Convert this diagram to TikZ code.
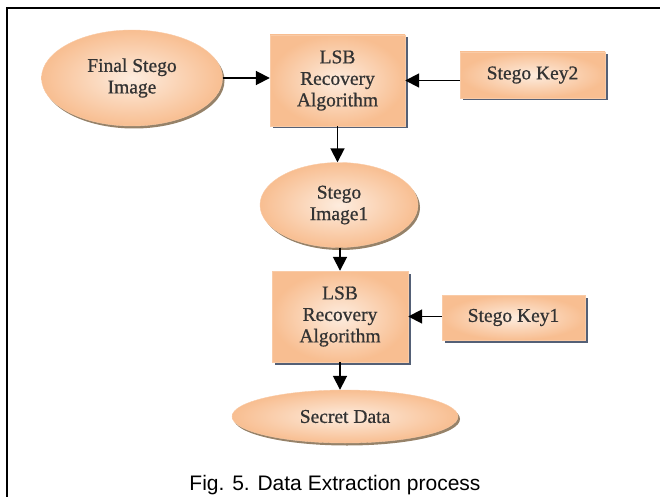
\documentclass[tikz,border=0pt]{standalone}
\usepackage{fontspec}
\setmainfont{Liberation Serif}
\newfontfamily\boxfont[FakeBold=0.8]{Liberation Serif}
\newfontfamily\capfont{Liberation Sans}
\usetikzlibrary{shapes.geometric,arrows.meta,shadows}
\definecolor{peachin}{RGB}{253,236,222}
\definecolor{peachout}{RGB}{248,190,145}
\definecolor{boxshadow}{RGB}{84,96,118}
\definecolor{ovalshadow}{RGB}{150,130,105}
\tikzset{
  procbox/.style={rectangle, inner sep=0pt, align=center,
    inner color=peachin, outer color=peachout,
    draw=peachout!80!white, line width=0.4pt,
    drop shadow={shadow xshift=2.5pt, shadow yshift=-2.5pt, fill=boxshadow, opacity=1},
    font=\boxfont\fontsize{19.5}{21.5}\selectfont, text=black!80},
  dataoval/.style={ellipse, inner sep=0pt, align=center,
    inner color=peachin, outer color=peachout,
    draw=peachout!80!white, line width=0.4pt,
    drop shadow={shadow xshift=2pt, shadow yshift=-2.5pt, fill=ovalshadow, opacity=1},
    font=\boxfont\fontsize{19.5}{21.5}\selectfont, text=black!80},
  flow/.style={line width=1.8pt, -{Triangle[length=14pt,width=14pt]}},
}
\begin{document}
\begin{tikzpicture}[x=1pt,y=-1pt]
\useasboundingbox (0,0) rectangle (660,497);
% outer frame
\draw[line width=2.2pt] (7,505) -- (7,8) -- (670,8);

\node[dataoval, minimum width=181pt, minimum height=96pt] (fsi) at (132,78) {Final Stego\\Image};
\node[procbox, minimum width=135pt, minimum height=91pt] (lsb1) at (337.5,80.5) {LSB\\Recovery\\Algorithm};
\node[procbox, minimum width=145pt, minimum height=46pt] (key2) at (532.5,75) {Stego Key2};
\node[dataoval, minimum width=158pt, minimum height=85pt] (si1) at (339,205) {Stego\\Image1};
\node[procbox, minimum width=136pt, minimum height=91pt] (lsb2) at (340,316.5) {LSB\\Recovery\\Algorithm};
\node[procbox, minimum width=143pt, minimum height=45pt] (key1) at (513.5,317.5) {Stego Key1};
\node[dataoval, minimum width=226pt, minimum height=53pt] (sd) at (345,416.5) {Secret Data};

\draw[flow] (fsi.east) -- (fsi.east -| lsb1.west);
\draw[flow] (lsb1.east -| key2.west) -- (lsb1.east);
\draw[flow] (lsb1.south) -- (lsb1.south |- si1.north);
\draw[flow] (si1.south -| lsb2.north) -- (lsb2.north);
\draw[flow] (lsb2.east -| key1.west) -- (lsb2.east);
\draw[flow] (lsb2.south) -- (lsb2.south |- sd.north);

\node[font=\capfont\fontsize{21}{24}\selectfont, anchor=base] (cap) at (335,490) {Fig. 5. Data Extraction process};
\end{tikzpicture}
\end{document}
